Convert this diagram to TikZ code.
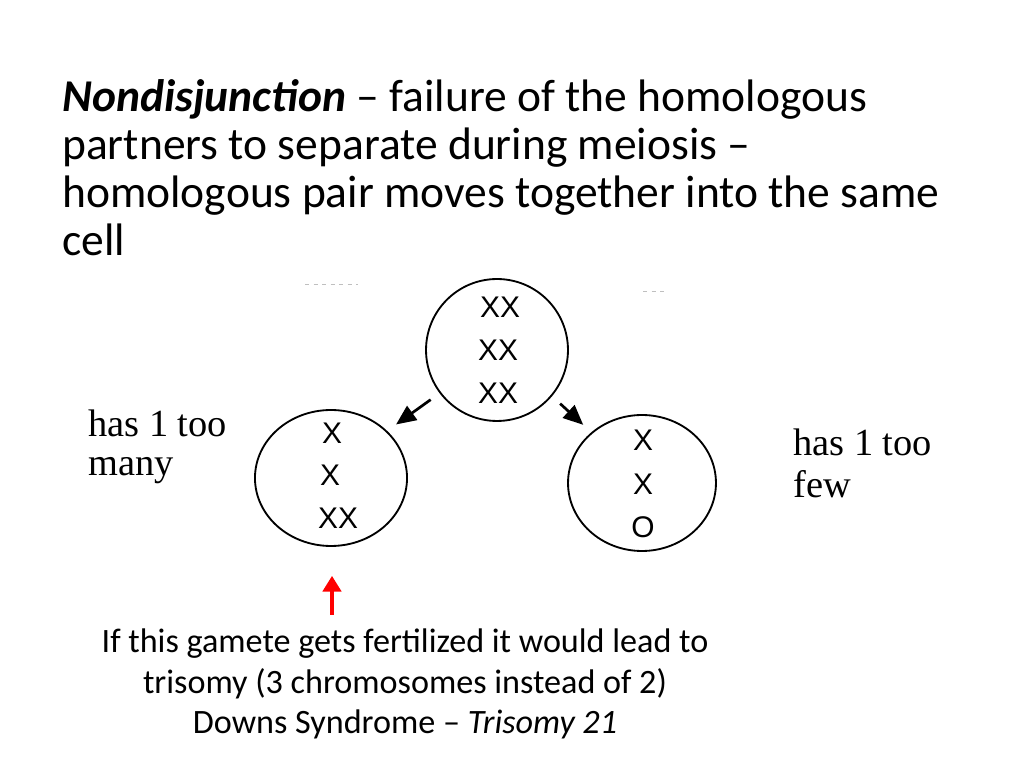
\documentclass[tikz,border=0pt]{standalone}
\usepackage{fontspec}
\setmainfont{Carlito}
\newfontfamily\scanfont{Liberation Serif}
\newfontfamily\chromfont{Liberation Sans}
\usetikzlibrary{arrows.meta}
\usetikzlibrary{shapes.geometric}
\tikzset{
  cell/.style={draw, ellipse, line width=1.3pt, inner sep=0pt},
  chrom/.style={font=\chromfont\fontsize{21}{21}\selectfont, inner sep=0pt},
  note/.style={font=\scanfont\fontsize{27}{28}\selectfont, align=left, anchor=base west, inner sep=0pt},
  split/.style={-{Triangle[length=14pt,width=12pt]}, line width=1.9pt, shorten <=7.7pt, shorten >=7.7pt},
  pointer/.style={-{Triangle[length=11pt,width=13pt]}, red, line width=2.2pt, shorten >=20.4pt},
}

\begin{document}
\begin{tikzpicture}[x=0.703pt, y=0.703pt]
\useasboundingbox (0,0) rectangle (1024,768);
\node[anchor=base west, align=left, inner sep=0pt, font=\fontsize{32}{33.75}\selectfont] (title) at (62,512) {\textbf{\textit{Nondisjunction}} – failure of the homologous\\ partners to separate during meiosis –\\ homologous pair moves together into the same\\ cell};

\draw[gray!50, dashed, line width=0.6pt] (305,484) -- (358,484);
\draw[gray!50, dashed, line width=0.6pt] (643,477) -- (665,477);

\node[cell, minimum width=99.8pt, minimum height=99.8pt] (parent) at (497,418) {};
\node[cell, minimum width=106.9pt, minimum height=95.6pt] (left) at (331,290) {};
\node[cell, minimum width=104pt, minimum height=95.6pt] (right) at (642,285) {};

\node[chrom] (p1) at (500,461) {XX};
\node[chrom] (p2) at (498,418) {XX};
\node[chrom] (p3) at (498,375) {XX};

\node[chrom] (l1) at (332,335) {X};
\node[chrom] (l2) at (330,293) {X};
\node[chrom] (l3) at (338,250) {XX};

\node[chrom] (r1) at (643,328) {X};
\node[chrom] (r2) at (643,284) {X};
\node[chrom] (r3) at (643,241) {O};

\draw[split] (parent.217.6) -- (left.40.7);
\draw[split] (parent.320.5) -- (right.135.5);

\node[note] (many) at (88,292) {has 1 too\\many};
\node[note, font=\scanfont\fontsize{27}{30}\selectfont] (few) at (793,270) {has 1 too\\few};

\coordinate (tail) at (332,153);
\draw[pointer] (tail) -- (tail |- left.south);

\node[align=center, anchor=base, inner sep=0pt, font=\fontsize{24}{28.8}\selectfont] (caption) at (405,34) {If this gamete gets fertilized it would lead to\\ trisomy (3 chromosomes instead of 2)\\ Downs Syndrome – \textit{Trisomy 21}};
\end{tikzpicture}
\end{document}
